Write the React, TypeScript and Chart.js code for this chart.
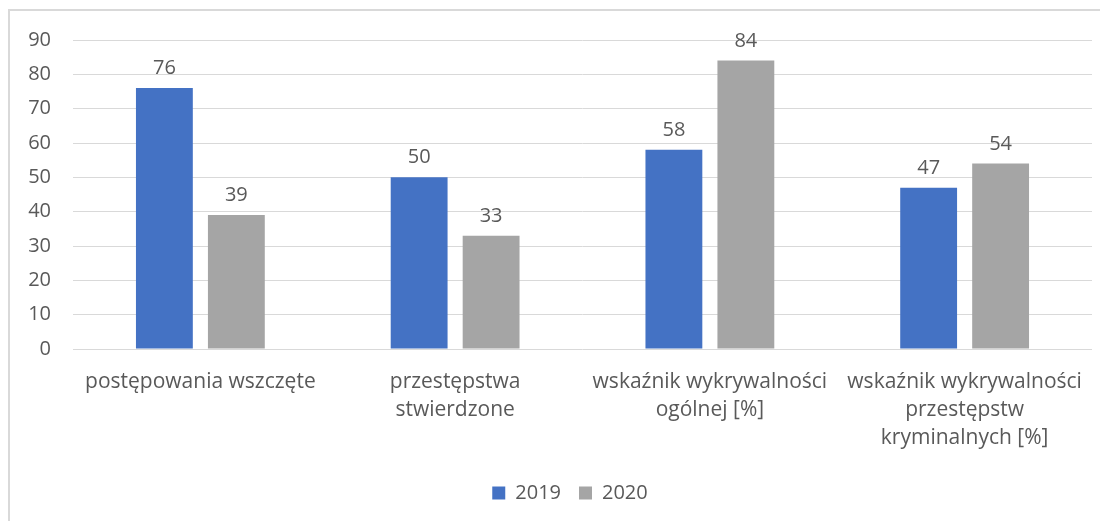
import React, { useEffect, useRef } from "react";
import { Chart, registerables } from "chart.js";

Chart.register(...registerables);

const categories: string[][] = [
  ["postępowania wszczęte"],
  ["przestępstwa", "stwierdzone"],
  ["wskaźnik wykrywalności", "ogólnej [%]"],
  ["wskaźnik wykrywalności", "przestępstw", "kryminalnych [%]"],
];
const series2019: number[] = [76, 50, 58, 47];
const series2020: number[] = [39, 33, 84, 54];
const seriesNames: string[] = ["2019", "2020"];
const yTicks = { min: 0, max: 90, step: 10 };

const BLUE = "#4472C4";
const GRAY = "#A5A5A5";
const TEXT = "#595959";
const GRID = "#D9D9D9";
const FONT = "'Open Sans', sans-serif";
const FONT_SIZE = 20;

const dataLabelPlugin = {
  id: "dataLabels",
  afterDatasetsDraw(chart: any) {
    const ctx = chart.ctx;
    ctx.save();
    ctx.font = `${FONT_SIZE}px ${FONT}`;
    ctx.fillStyle = TEXT;
    ctx.textAlign = "center";
    ctx.textBaseline = "alphabetic";
    chart.data.datasets.forEach((ds: any, i: number) => {
      const meta = chart.getDatasetMeta(i);
      meta.data.forEach((el: any, j: number) => {
        ctx.fillText(String(ds.data[j]), el.x, el.y - 14);
      });
    });
    ctx.restore();
  },
};

const legendShiftPlugin = {
  id: "legendShift",
  afterLayout(chart: any) {
    if (chart.legend) chart.legend.left += 38;
  },
};

export default function App() {
  const ref = useRef<HTMLCanvasElement | null>(null);
  useEffect(() => {
    document.body.style.overflow = "hidden";
    const chart = new Chart(ref.current as HTMLCanvasElement, {
      type: "bar",
      data: {
        labels: categories,
        datasets: [
          {
            label: seriesNames[0],
            data: series2019,
            backgroundColor: BLUE,
            categoryPercentage: 0.565,
            barPercentage: 0.79,
          },
          {
            label: seriesNames[1],
            data: series2020,
            backgroundColor: GRAY,
            categoryPercentage: 0.565,
            barPercentage: 0.79,
          },
        ],
      },
      options: {
        animation: false,
        responsive: true,
        maintainAspectRatio: false,
        layout: { padding: { top: 29, right: 16, left: 0, bottom: 8 } },
        plugins: {
          legend: {
            position: "bottom",
            labels: {
              boxWidth: 13,
              boxHeight: 13,
              padding: 18,
              color: TEXT,
              font: { family: FONT, size: 20 },
            },
          },
          tooltip: { enabled: false },
        },
        scales: {
          x: {
            grid: { display: false },
            border: { display: false },
            ticks: {
              color: TEXT,
              font: { family: FONT, size: 21, lineHeight: 1.333 },
              padding: 11,
              maxRotation: 0,
              autoSkip: false,
            },
            afterFit(scale: any) {
              scale.height = 116;
            },
          },
          y: {
            min: yTicks.min,
            max: yTicks.max,
            grid: {
              color: GRID,
              lineWidth: 1,
              drawTicks: true,
              tickLength: 12,
              tickColor: "rgba(0,0,0,0)",
            },
            border: { display: false },
            ticks: {
              stepSize: yTicks.step,
              color: TEXT,
              font: { family: FONT, size: FONT_SIZE },
              padding: 10,
            },
            afterFit(scale: any) {
              scale.width = 63;
            },
          },
        },
      },
      plugins: [dataLabelPlugin, legendShiftPlugin],
    });
    return () => chart.destroy();
  }, []);
  return (
    <div
      style={{
        marginTop: 1,
        width: 1100,
        height: 512,
        boxSizing: "border-box",
        borderLeft: `2px solid ${GRID}`,
        borderTop: `2px solid ${GRID}`,
        position: "relative",
      }}
    >
      <canvas ref={ref} />
    </div>
  );
}
